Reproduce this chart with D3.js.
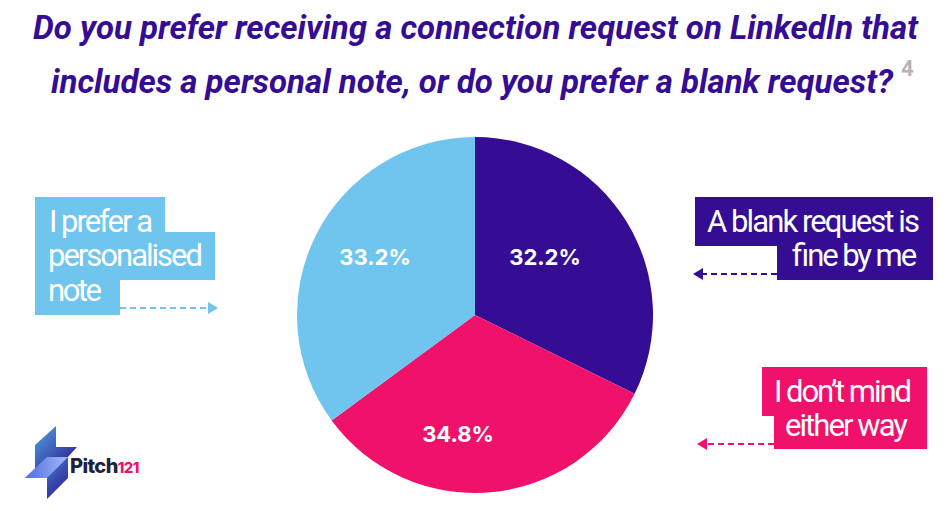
<!DOCTYPE html>
<html>
<head>
<meta charset="utf-8">
<script src="https://cdn.jsdelivr.net/npm/d3@7"></script>
<style>
  html, body { margin: 0; padding: 0; background: #fff; }
  svg { display: block; }
</style>
</head>
<body>
<svg id="chart" width="952" height="511"></svg>
<script>
const width = 952;
const height = 511;

// slice sizes measured off the drawn pie, the printed labels don't quite agree with them
const sliceNames = ["A blank request is fine by me", "I don't mind either way", "I prefer a personalised note"];
const sliceValues = [32.3, 32.6, 35.1];
const sliceLabels = ["32.2%", "34.8%", "33.2%"];
const sliceColors = ["#340d94", "#f0116a", "#6fc5ee"];

const titleLines = [
    "Do you prefer receiving a connection request on LinkedIn that",
    "includes a personal note, or do you prefer a blank request?"
];

const svg = d3.select("#chart");

// title
const titleSpec = [{ x: 33, y: 39, w: 885 }, { x: 51, y: 93, w: 842 }];
svg.selectAll(".title")
    .data(titleLines)
    .enter().append("text")
    .attr("class", "title")
    .attr("x", (d, i) => titleSpec[i].x)
    .attr("y", (d, i) => titleSpec[i].y)
    .attr("textLength", (d, i) => titleSpec[i].w)
    .attr("lengthAdjust", "spacingAndGlyphs")
    .attr("font-family", "Roboto")
    .attr("font-weight", 700)
    .attr("font-style", "italic")
    .attr("font-size", 34)
    .attr("fill", "#340d94")
    .text(d => d);

svg.append("text")
    .attr("x", 901)
    .attr("y", 76)
    .attr("font-family", "Roboto")
    .attr("font-weight", 700)
    .attr("font-size", 22)
    .attr("fill", "#b5b5b5")
    .text("4");

// pie
const pie = d3.pie().sort(null).value(d => d);
const arc = d3.arc().innerRadius(0).outerRadius(178);
const pieGroup = svg.append("g").attr("transform", "translate(475,315)");

pieGroup.selectAll("path")
    .data(pie(sliceValues))
    .enter().append("path")
    .attr("d", arc)
    .attr("fill", (d, i) => sliceColors[i]);

const labelPos = [[545, 257], [458, 434], [375, 257]];
svg.selectAll(".pct")
    .data(sliceLabels)
    .enter().append("text")
    .attr("class", "pct")
    .attr("x", (d, i) => labelPos[i][0])
    .attr("y", (d, i) => labelPos[i][1])
    .attr("dy", "0.35em")
    .attr("text-anchor", "middle")
    .attr("font-family", "Inter")
    .attr("font-weight", 700)
    .attr("font-size", 22)
    .attr("fill", "#fff")
    .text(d => d);

// callout boxes, stepped behind each line of text
// lines are [text, x, baseline, width]
const callouts = [
    {
        color: sliceColors[2],
        boxes: [[35, 197, 130, 36], [35, 232, 180, 48], [35, 279, 85, 36]],
        lines: [["I prefer a", 49, 232, 104], ["personalised", 48, 266, 155], ["note", 48, 301, 54]],
        arrow: [120, 218, 308]
    },
    {
        color: sliceColors[0],
        boxes: [[695, 197, 238, 49], [777, 245, 156, 35]],
        lines: [["A blank request is", 707, 232, 213], ["fine by me", 790, 266, 125]],
        arrow: [777, 693, 274]
    },
    {
        color: sliceColors[1],
        boxes: [[762, 367, 165, 49], [774, 415, 153, 34]],
        lines: [["I don\u2019t mind", 774, 402, 138], ["either way", 785, 436, 123]],
        arrow: [774, 697, 444]
    }
];

callouts.forEach(c => {
    const g = svg.append("g");
    g.selectAll("rect")
        .data(c.boxes)
        .enter().append("rect")
        .attr("x", d => d[0])
        .attr("y", d => d[1])
        .attr("width", d => d[2])
        .attr("height", d => d[3])
        .attr("fill", c.color);
    // tight tracking like the original, glyphs keep their shape
    g.selectAll("text")
        .data(c.lines)
        .enter().append("text")
        .attr("x", d => d[1])
        .attr("y", d => d[2])
        .attr("textLength", d => d[3])
        .attr("lengthAdjust", "spacing")
        .attr("font-family", "Roboto")
        .attr("font-size", 31)
        .attr("fill", "#fff")
        .text(d => d[0]);

    const [x0, x1, y] = c.arrow;
    const dir = x1 > x0 ? 1 : -1;
    g.append("line")
        .attr("x1", x0)
        .attr("y1", y)
        .attr("x2", x1 - dir * 8)
        .attr("y2", y)
        .attr("stroke", c.color)
        .attr("stroke-width", 2)
        .attr("stroke-dasharray", "6 4");
    g.append("path")
        .attr("d", d3.line()([[x1, y], [x1 - dir * 10, y - 6], [x1 - dir * 10, y + 6]]) + "Z")
        .attr("fill", c.color);
});

// logo
const defs = svg.append("defs");
const grad = defs.append("linearGradient")
    .attr("id", "bolt")
    .attr("x1", 0).attr("y1", 0)
    .attr("x2", 1).attr("y2", 1);
grad.append("stop").attr("offset", "0%").attr("stop-color", "#4fa3dc");
grad.append("stop").attr("offset", "100%").attr("stop-color", "#2a1391");

const grad2 = defs.append("linearGradient")
    .attr("id", "boltMid")
    .attr("x1", 0).attr("y1", 0)
    .attr("x2", 1).attr("y2", 0);
grad2.append("stop").attr("offset", "0%").attr("stop-color", "#4a6ee0");
grad2.append("stop").attr("offset", "100%").attr("stop-color", "#a9b8f5");

const logo = svg.append("g");
logo.append("path")
    .attr("d", "M56,426 L56,447 L77,447 L66,459 L47,459 L35,470 L35,445 Z")
    .attr("fill", "url(#bolt)");
logo.append("path")
    .attr("d", "M25,478 L47,457 L68,457 L68,478 L47,499 L47,478 Z")
    .attr("fill", "url(#bolt)");
logo.append("path")
    .attr("d", "M25,478 L47,457 L68,457 L47,478 Z")
    .attr("fill", "url(#boltMid)");

const logoText = svg.append("text")
    .attr("x", 70)
    .attr("y", 473)
    .attr("font-family", "Inter")
    .attr("font-weight", 800)
    .attr("font-size", 20)
    .attr("letter-spacing", -0.6);
logoText.append("tspan").attr("fill", "#1c2340").text("Pitch");
logoText.append("tspan").attr("fill", "#f0116a").attr("font-size", 15).text("121");
</script>
</body>
</html>
